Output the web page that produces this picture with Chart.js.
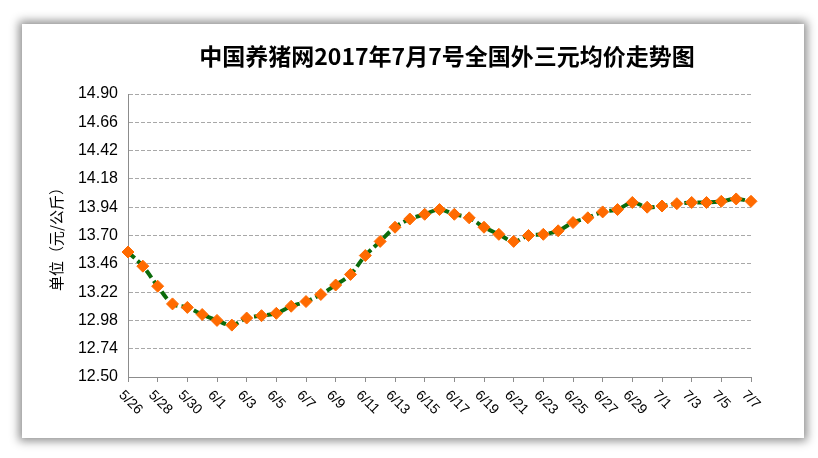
<!DOCTYPE html>
<html lang="zh">
<head>
  <meta charset="UTF-8" />
  <title>外三元均价走势图</title>
  <script src="https://cdn.jsdelivr.net/npm/chart.js"></script>
  <style>
    * { margin: 0; padding: 0; box-sizing: border-box; }
    body { width: 818px; height: 458px; background: #fff; position: relative; overflow: hidden; }
    .frame {
      position: absolute;
      left: 22px; top: 24px;
      width: 782px; height: 414px;
      background: #fff;
      box-shadow: 0 0 9px 3px rgba(0, 0, 0, 0.45);
    }
    canvas { position: absolute; left: 0; top: 0; }
  </style>
</head>
<body>
  <div class="frame"></div>
  <canvas id="priceChart" width="818" height="458"></canvas>

  <script>
    const titleText = '中国养猪网2017年7月7号全国外三元均价走势图';
    const yTitle = '单位（元/公斤）';

    const dates = [
      '5/26', '5/27', '5/28', '5/29', '5/30', '5/31',
      '6/1', '6/2', '6/3', '6/4', '6/5', '6/6', '6/7', '6/8', '6/9', '6/10',
      '6/11', '6/12', '6/13', '6/14', '6/15', '6/16', '6/17', '6/18', '6/19', '6/20',
      '6/21', '6/22', '6/23', '6/24', '6/25', '6/26', '6/27', '6/28', '6/29', '6/30',
      '7/1', '7/2', '7/3', '7/4', '7/5', '7/6', '7/7'
    ];

    const prices = [
      13.56, 13.44, 13.27, 13.12, 13.09, 13.03,
      12.98, 12.94, 13.00, 13.02, 13.04, 13.10, 13.14, 13.20, 13.28, 13.37,
      13.53, 13.65, 13.77, 13.84, 13.88, 13.92, 13.88, 13.85, 13.77, 13.71,
      13.65, 13.70, 13.71, 13.74, 13.81, 13.85, 13.90, 13.92, 13.98, 13.94,
      13.95, 13.97, 13.98, 13.98, 13.99, 14.01, 13.99
    ];

    const yMin = 12.50;
    const yMax = 14.90;
    const yStep = 0.24;

    // title is drawn by hand so it can sit off-centre like the original
    const titlePlugin = {
      id: 'customTitle',
      afterDraw(chart) {
        const ctx = chart.ctx;
        ctx.save();
        ctx.font = 'bold 23px "Noto Sans CJK SC"';
        ctx.fillStyle = '#000';
        ctx.textAlign = 'center';
        ctx.textBaseline = 'middle';
        ctx.fillText(titleText, 447, 56);
        ctx.restore();
      }
    };

    // x labels slant down to the right, which chart.js can't do by itself
    const xLabelPlugin = {
      id: 'xLabels',
      afterDraw(chart) {
        const sc = chart.scales.x;
        const ctx = chart.ctx;
        ctx.save();
        ctx.font = '14px "Liberation Sans"';
        ctx.fillStyle = '#000';
        ctx.textAlign = 'left';
        ctx.textBaseline = 'middle';
        dates.forEach((d, i) => {
          if (i % 2) return;
          const x = sc.getPixelForValue(i);
          ctx.save();
          ctx.translate(x - 7, sc.top + 16);
          ctx.rotate(Math.PI / 4);
          ctx.fillText(d, 0, 0);
          ctx.restore();
        });
        ctx.restore();
      }
    };

    new Chart(document.getElementById('priceChart'), {
      type: 'line',
      data: {
        labels: dates,
        datasets: [{
          data: prices,
          borderColor: '#0b6b0b',
          borderWidth: 4,
          borderDash: [9, 4],
          tension: 0.35,
          pointStyle: 'rectRot',
          pointRadius: 6,
          pointBackgroundColor: '#ff6a00',
          pointBorderColor: '#ff6a00',
          pointBorderWidth: 1
        }]
      },
      options: {
        responsive: false,
        animation: false,
        layout: { padding: { left: 0, right: 67, top: 94, bottom: 0 } },
        plugins: {
          legend: { display: false },
          tooltip: { enabled: false }
        },
        scales: {
          x: {
            offset: false,
            afterFit(scale) { scale.height = 81; },
            border: { color: '#8c8c8c', width: 1 },
            grid: {
              drawOnChartArea: false,
              drawTicks: true,
              tickLength: 5,
              color: ctx => (ctx.index % 2 ? 'rgba(0,0,0,0)' : '#8c8c8c')
            },
            ticks: { display: false }
          },
          y: {
            min: yMin,
            max: yMax,
            afterFit(scale) { scale.width = 128; },
            border: { color: '#8c8c8c', width: 1, dash: [4, 2] },
            grid: {
              color: ctx => (ctx.index === 0 ? '#8c8c8c' : '#a8a8a8'),
              drawTicks: false
            },
            ticks: {
              stepSize: yStep,
              padding: 10,
              color: '#000',
              font: { family: '"Liberation Sans"', size: 16 },
              callback: v => Number(v).toFixed(2)
            },
            title: {
              display: true,
              text: yTitle,
              color: '#000',
              font: { family: '"Noto Sans CJK SC"', size: 15 },
              padding: { top: 47, bottom: 0 }
            }
          }
        }
      },
      plugins: [titlePlugin, xLabelPlugin]
    });
  </script>
</body>
</html>
